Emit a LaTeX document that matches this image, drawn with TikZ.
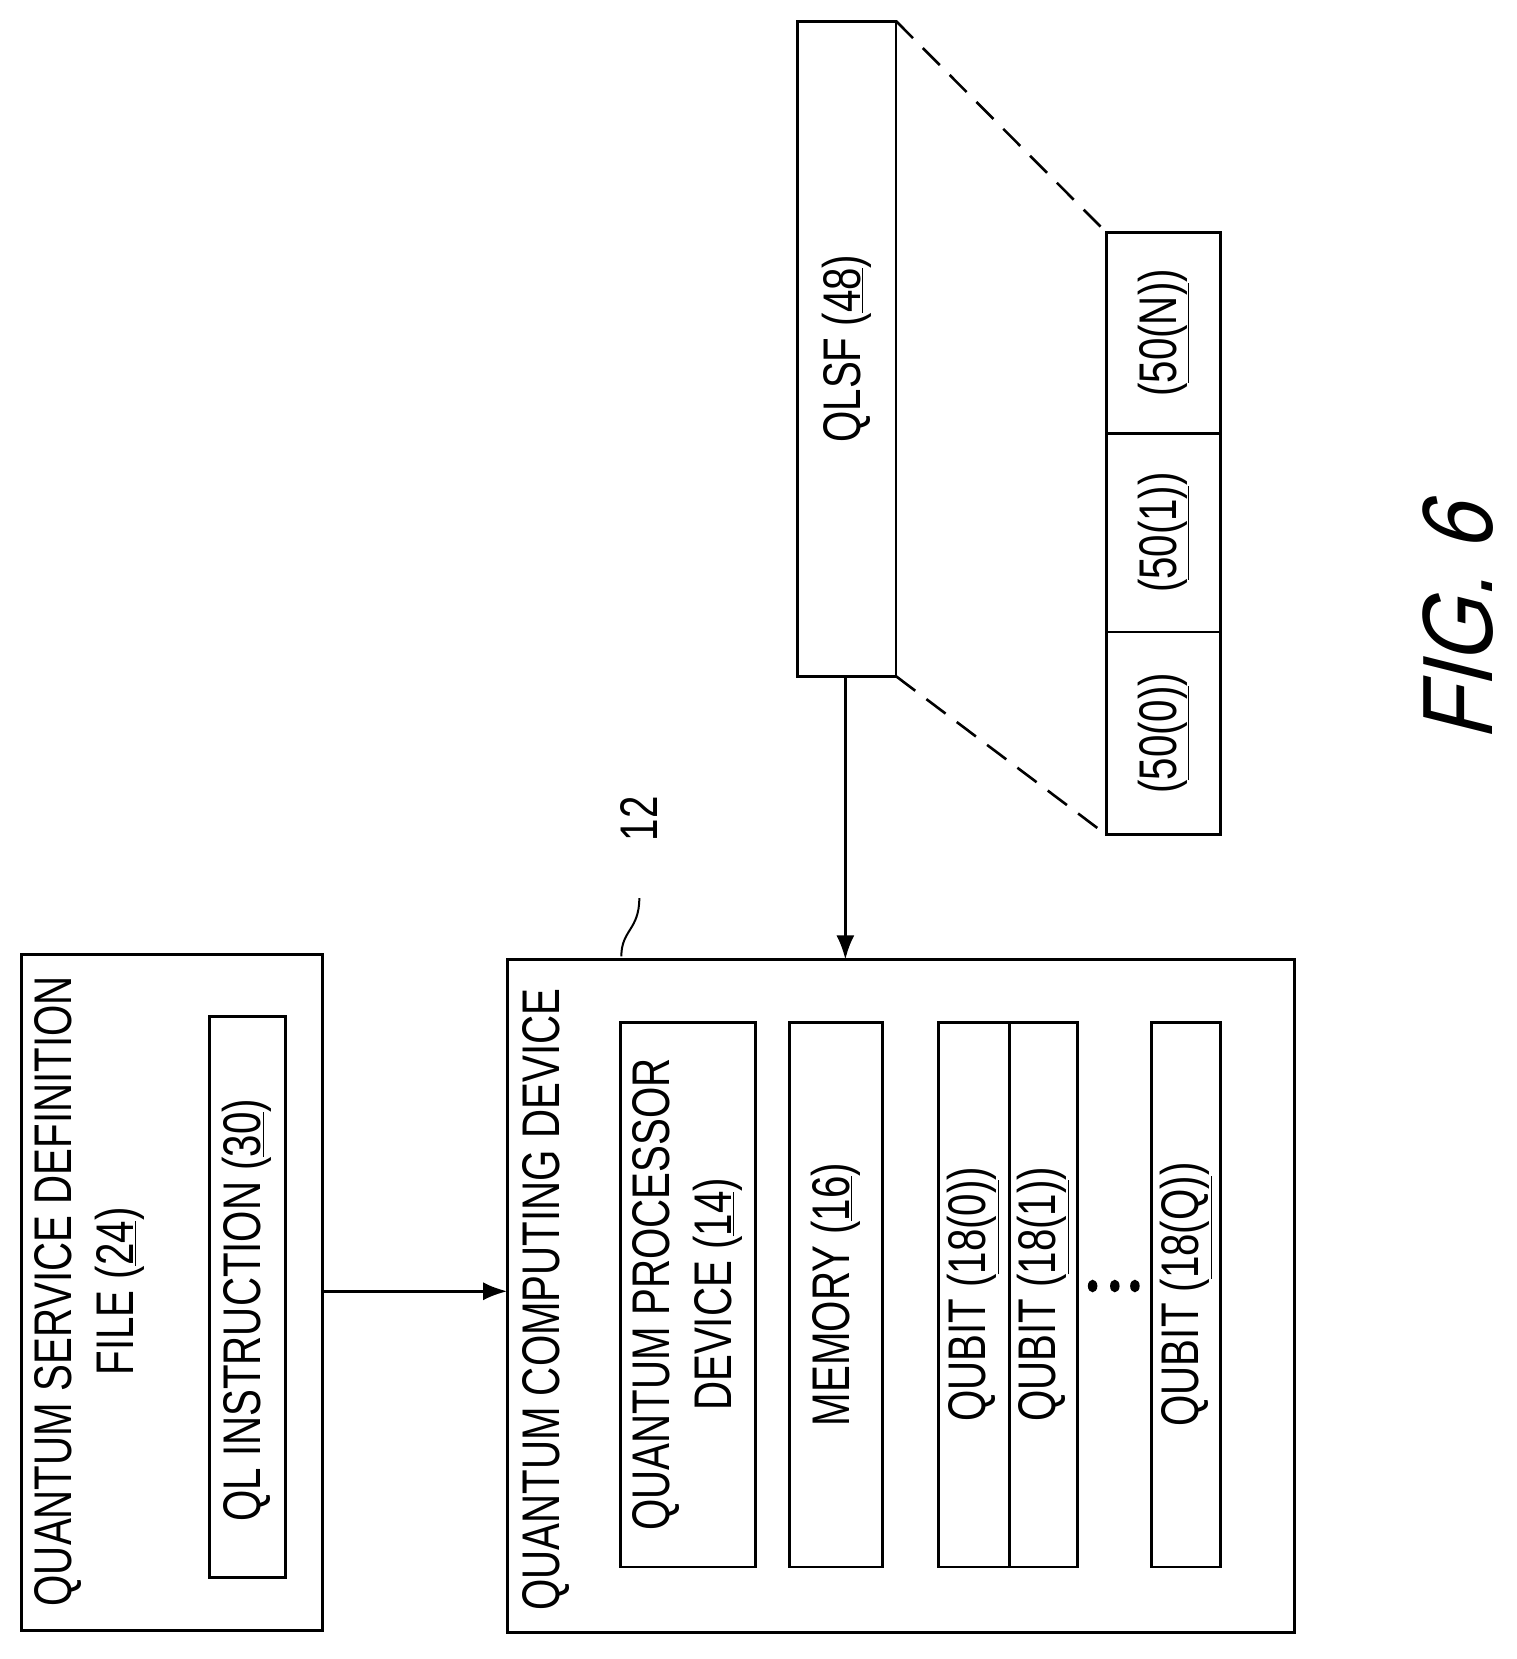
\documentclass[tikz,border=0pt]{standalone}
\usepackage{fontspec}
\usetikzlibrary{arrows.meta}
\setmainfont{Liberation Sans}[FakeStretch=0.76]
\newfontfamily\figfont{Liberation Sans}[FakeSlant=0.25,FakeStretch=0.85]
\begin{document}
\begin{tikzpicture}[x=1.057pt,y=-1.057pt,
  box/.style={draw,line width=2.8pt},
  txt/.style={rotate=90,font=\fontsize{53}{62}\selectfont,inner sep=0pt,align=center},
  arr/.style={line width=2.6pt,-{Latex[length=24pt,width=18pt]}},
  dsh/.style={line width=2.6pt,dash pattern=on 24pt off 14pt}]
\useasboundingbox (0,0) rectangle (1435,1570);
% QSDF
\draw[box] (20,903) rectangle (305,1543);
\node[txt] (qsdf) at (85,1222) {QUANTUM SERVICE DEFINITION\\FILE (\underline{24})};
\draw[box] (198,962) rectangle (270,1493);
\node[txt] (ql) at (234,1240) {QL INSTRUCTION (\underline{30})};
% QCD
\draw[box] (480,908) rectangle (1225,1545);
\coordinate (qsdfE) at (305,1222);
\coordinate (qcdW) at (480,1222);
\draw[arr] (qsdfE) -- (qcdW);
\node[txt] (qcd) at (517,1230) {QUANTUM COMPUTING DEVICE};
\draw[box] (587,968) rectangle (715,1483);
\node[txt] (qp) at (651,1225) {QUANTUM PROCESSOR\\DEVICE (\underline{14})};
\draw[box] (747,968) rectangle (835,1483);
\node[txt] (mem) at (791,1225) {MEMORY (\underline{16})};
\draw[box] (888,968) rectangle (955,1483);
\node[txt] (q0) at (921,1225) {QUBIT (\underline{18(0)})};
\draw[box] (955,968) rectangle (1020,1483);
\node[txt] (q1) at (987,1225) {QUBIT (\underline{18(1)})};
\foreach \xx in {1034,1055,1074} \fill (\xx,1217) ellipse (4.5 and 6);
\draw[box] (1090,968) rectangle (1155,1483);
\node[txt] (qq) at (1122,1225) {QUBIT (\underline{18(Q)})};
% label 12
\node[txt] (l12) at (605,775) {12};
\draw[line width=2pt] (588,905) .. controls (588,880) and (605,880) .. (605,850);
% QLSF
\draw[box] (755,20) rectangle (848,640);
\node[txt] (qlsf) at (801,330) {QLSF (\underline{48})};
\coordinate (qlsfS) at (800,640);
\coordinate (qcdN) at (800,908);
\draw[arr] (qlsfS) -- (qcdN);
\draw[box] (1047,220) rectangle (1155,790);
\draw[box] (1047,410) -- (1155,410);
\draw[box] (1047,598) -- (1155,598);
\node[txt] (n) at (1101,315) {(\underline{50(N)})};
\node[txt] (one) at (1101,504) {(\underline{50(1)})};
\node[txt] (zero) at (1101,694) {(\underline{50(0)})};
\draw[dsh] (848,20) -- (1047,220);
\draw[dsh] (848,640) -- (1047,790);
\node[rotate=90,inner sep=0pt,font=\figfont\fontsize{100}{100}\selectfont] (fig) at (1380,590) {FIG. 6};
\end{tikzpicture}
\end{document}
